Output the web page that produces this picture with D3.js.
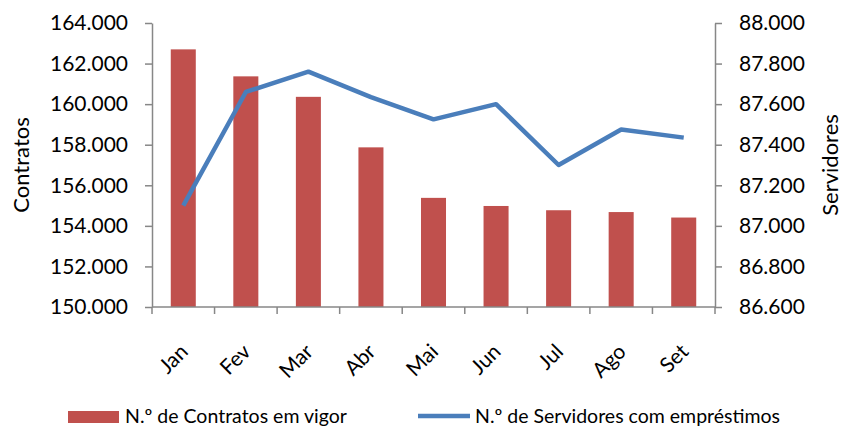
<!DOCTYPE html>
<html>
<head>
<meta charset="utf-8">
<script src="https://cdn.jsdelivr.net/npm/d3@7"></script>
<style>
  body { margin: 0; background: #fff; }
  text { font-family: Lato, "Open Sans", sans-serif; fill: #000; }
</style>
</head>
<body>
<div id="chart"></div>
<script>
// data
var months = ["Jan", "Fev", "Mar", "Abr", "Mai", "Jun", "Jul", "Ago", "Set"];
var contratos = [162700, 161370, 160360, 157870, 155380, 154980, 154770, 154680, 154410];
var servidores = [87100, 87660, 87760, 87635, 87525, 87600, 87300, 87475, 87435];
var leftTicks = [150000, 152000, 154000, 156000, 158000, 160000, 162000, 164000];
var rightTicks = [86600, 86800, 87000, 87200, 87400, 87600, 87800, 88000];

var W = 843, H = 426;
var margin = {top: 23, right: 128, bottom: 119, left: 152},
    width = W - margin.left - margin.right,
    height = H - margin.top - margin.bottom;

var svg = d3.select("#chart")
  .append("svg")
    .attr("width", W)
    .attr("height", H)
  .append("g")
    .attr("transform", "translate(" + margin.left + "," + margin.top + ")");

var fmt = function(d) { return d3.format(",.3f")(d / 1000).replace(",", "."); };

var x = d3.scaleBand().domain(months).range([0, width]);
var y = d3.scaleLinear().domain([150000, 164000]).range([height, 0]);
var y2 = d3.scaleLinear().domain([86600, 88000]).range([height, 0]);

// bars
var bw = x.bandwidth() * 0.4;
svg.selectAll(".bar")
  .data(contratos)
  .enter().append("rect")
    .attr("x", function(d, i) { return x(months[i]) + x.bandwidth() / 2 - bw / 2; })
    .attr("y", function(d) { return y(d); })
    .attr("width", bw)
    .attr("height", function(d) { return height - y(d); })
    .attr("fill", "#C0504D");

// line
svg.append("path")
  .datum(servidores)
  .attr("fill", "none")
  .attr("stroke", "#4A7EBB")
  .attr("stroke-width", 4.5)
  .attr("stroke-linejoin", "round")
  .attr("d", d3.line()
    .x(function(d, i) { return x(months[i]) + x.bandwidth() / 2; })
    .y(function(d) { return y2(d); }));

// axes
function styleAxis(g) {
  g.selectAll("path, line").attr("stroke", "#878787").attr("stroke-width", 1.5);
  g.selectAll("text").style("font-size", "21px").style("font-family", "Lato, sans-serif");
}

svg.append("g")
  .call(d3.axisLeft(y).tickValues(leftTicks).tickFormat(fmt).tickSize(7).tickSizeOuter(0).tickPadding(17))
  .call(styleAxis);

svg.append("g")
  .attr("transform", "translate(" + width + ",0)")
  .call(d3.axisRight(y2).tickValues(rightTicks).tickFormat(fmt).tickSize(7).tickSizeOuter(0).tickPadding(17))
  .call(styleAxis);

// bottom axis: ticks on band edges
var xa = svg.append("g").attr("transform", "translate(0," + height + ")");
xa.append("line").attr("x1", 0).attr("x2", width).attr("stroke", "#878787").attr("stroke-width", 1.5);
xa.selectAll(".tk")
  .data(months.concat(["end"]))
  .enter().append("line")
    .attr("x1", function(d, i) { return i * x.step(); })
    .attr("x2", function(d, i) { return i * x.step(); })
    .attr("y1", 0).attr("y2", 7)
    .attr("stroke", "#878787").attr("stroke-width", 1.5);
xa.selectAll(".lbl")
  .data(months)
  .enter().append("text")
    .attr("transform", function(d) {
      return "translate(" + (x(d) + x.bandwidth() / 2 + 6) + ",46) rotate(-45)";
    })
    .style("text-anchor", "end")
    .style("font-size", "21px")
    .text(function(d) { return d; });

// axis titles
svg.append("text")
  .attr("transform", "translate(" + (-margin.left + 29) + "," + (height / 2) + ") rotate(-90)")
  .style("text-anchor", "middle")
  .style("font-size", "22px")
  .text("Contratos");

svg.append("text")
  .attr("transform", "translate(" + (width + 123) + "," + (height / 2) + ") rotate(-90)")
  .style("text-anchor", "middle")
  .style("font-size", "22px")
  .text("Servidores");

// legend
var lg = d3.select("svg").append("g");
lg.append("rect").attr("x", 68).attr("y", 411).attr("width", 51).attr("height", 12).attr("fill", "#C0504D");
lg.append("text").attr("x", 125).attr("y", 423).style("font-size", "19.5px").text("N.º de Contratos em vigor");
lg.append("line").attr("x1", 418).attr("x2", 470).attr("y1", 416).attr("y2", 416)
  .attr("stroke", "#4A7EBB").attr("stroke-width", 4.5);
lg.append("text").attr("x", 475).attr("y", 423).style("font-size", "19.5px").text("N.º de Servidores com empréstimos");
</script>
</body>
</html>
